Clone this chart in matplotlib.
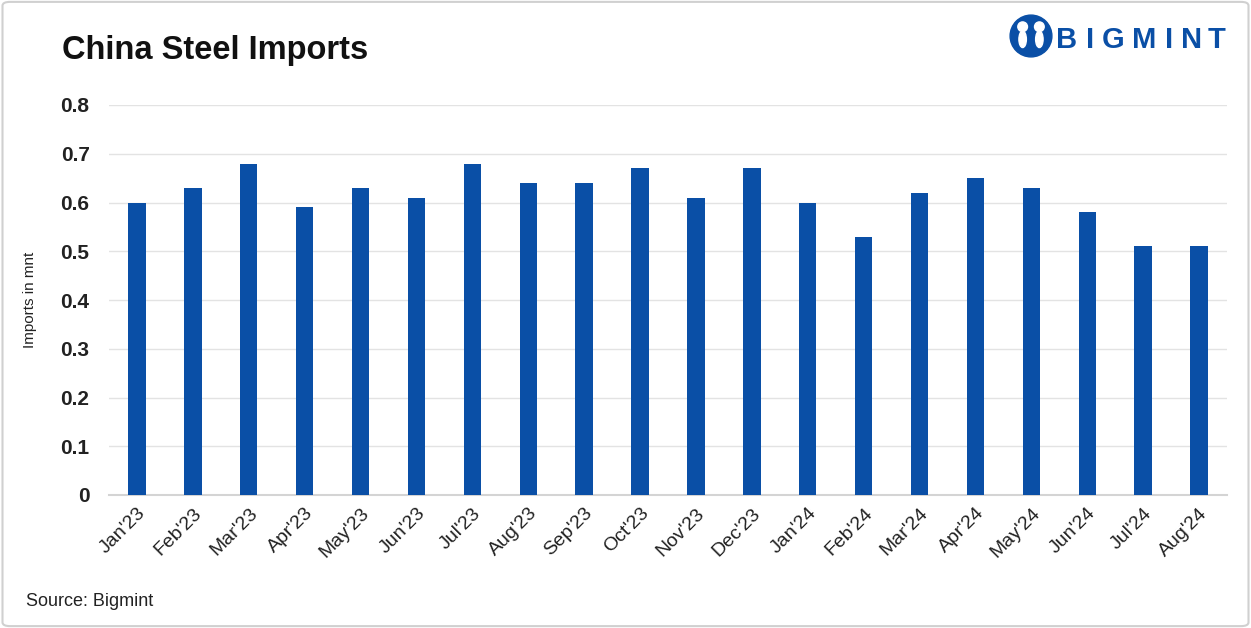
import matplotlib.pyplot as plt
from matplotlib.patches import FancyBboxPatch, Circle, Ellipse

months = ["Jan'23", "Feb'23", "Mar'23", "Apr'23", "May'23", "Jun'23", "Jul'23",
          "Aug'23", "Sep'23", "Oct'23", "Nov'23", "Dec'23", "Jan'24", "Feb'24",
          "Mar'24", "Apr'24", "May'24", "Jun'24", "Jul'24", "Aug'24"]
imports = [0.60, 0.63, 0.68, 0.59, 0.63, 0.61, 0.68, 0.64, 0.64, 0.67,
           0.61, 0.67, 0.60, 0.53, 0.62, 0.65, 0.63, 0.58, 0.51, 0.51]
yticks = [0, 0.1, 0.2, 0.3, 0.4, 0.5, 0.6, 0.7, 0.8]

blue = "#0a4fa6"
plt.rcParams['font.family'] = ['Liberation Sans', 'DejaVu Sans']

fig = plt.figure(figsize=(12.51, 6.28), dpi=100)

# outer frame
fig.patches.append(FancyBboxPatch((0.002, 0.003), 0.996, 0.994,
                                  boxstyle="round,pad=0,rounding_size=0.006",
                                  transform=fig.transFigure, fill=False,
                                  edgecolor="#d0d0d0", linewidth=1.5))

ax = fig.add_axes([109 / 1251, 1 - 495 / 628, (1227 - 109) / 1251, 390 / 628])
x = range(len(months))
ax.bar(x, imports, width=0.31, color=blue, zorder=3)

ax.set_xlim(-0.5, len(months) - 0.5)
ax.set_ylim(0, 0.8)
ax.set_yticks(yticks)
ax.set_yticklabels(["0" if v == 0 else f"{v:.1f}" for v in yticks],
                   fontsize=15, fontweight="bold", color="#222222")
ax.set_xticks(list(x))
ax.set_xticklabels(months, rotation=45, ha="right", rotation_mode="anchor",
                   fontsize=14, color="#222222")
ax.tick_params(length=0)
ax.tick_params(axis="y", pad=14)
ax.tick_params(axis="x", pad=7)
ax.grid(axis="y", color="#e3e3e3", linewidth=1, zorder=0)
for s in ["top", "right", "left"]:
    ax.spines[s].set_visible(False)
ax.spines["bottom"].set_color("#d4d4d4")
ax.spines["bottom"].set_linewidth(1.5)

ax.set_ylabel("Imports in mnt", fontsize=11, color="#222222", labelpad=17)

fig.text(62 / 1251, 1 - 50 / 628, "China Steel Imports", fontsize=23.5,
         fontweight="bold", color="#111111", va="center")
fig.text(26 / 1251, 1 - 601 / 628, "Source: Bigmint", fontsize=13,
         color="#222222", va="center")

# logo: round icon + spaced letters
lax = fig.add_axes([1009 / 1251, 1 - 58 / 628, 44 / 1251, 44 / 628])
lax.set_xlim(-1, 1)
lax.set_ylim(-1, 1)
lax.set_aspect("equal")
lax.axis("off")
lax.add_patch(Circle((0, 0), 0.95, color=blue))
for cx in (-0.38, 0.38):
    lax.add_patch(Circle((cx, 0.42), 0.22, color="white"))
    lax.add_patch(Ellipse((cx, -0.15), 0.34, 0.75, color="white"))

letters = ["B", "I", "G", "M", "I", "N", "T"]
letter_x = [1067, 1090, 1113, 1144, 1169, 1192, 1217]
for ch, lx in zip(letters, letter_x):
    fig.text(lx / 1251, 1 - 40 / 628, ch, fontsize=21, fontweight="bold",
             color=blue, ha="center", va="center")

fig.savefig("out.png", dpi=100)
